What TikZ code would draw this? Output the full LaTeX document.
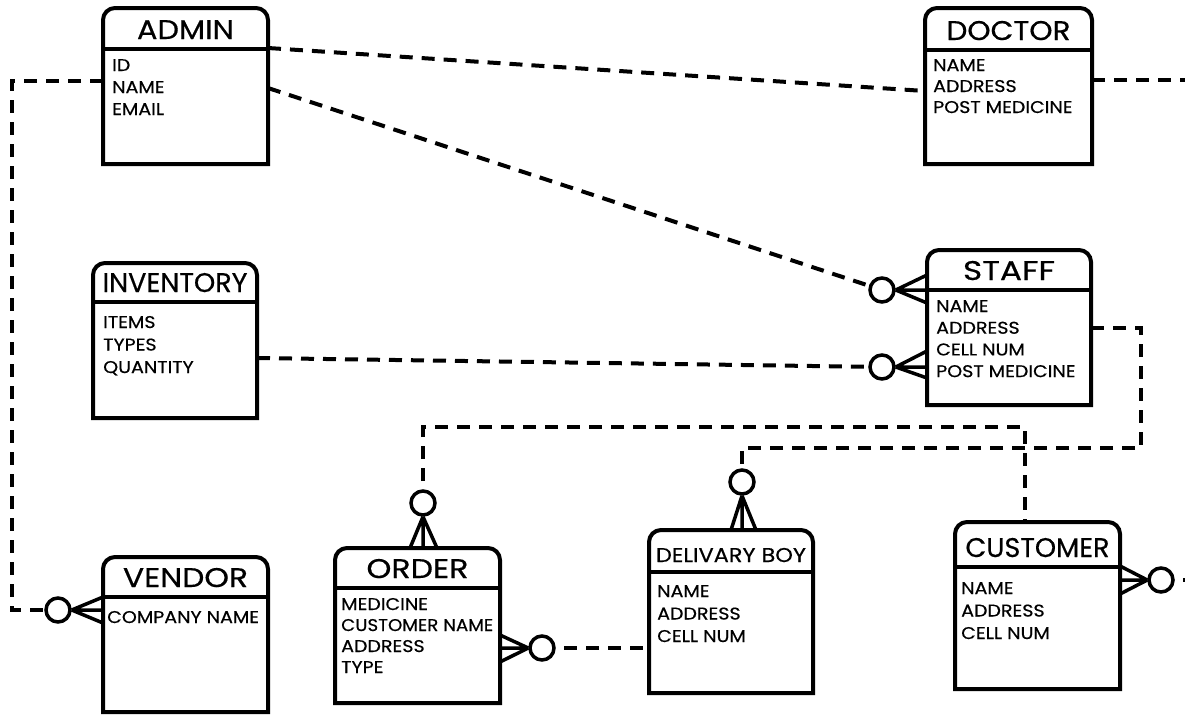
\documentclass[tikz,border=0pt]{standalone}
\usepackage{graphicx}
\usepackage{fontspec}
\setmainfont{Poppins}[FakeStretch=1.12, FakeBold=0.5]
\usetikzlibrary{fit}
\tikzset{
 boxline/.style={line width=4pt, line join=miter},
 conn/.style={line width=4pt, dash pattern=on 13pt off 9pt},
 crow/.style={line width=3.5pt},
 zcircle/.style={circle, draw, line width=3.5pt, minimum size=24pt, inner sep=0pt, fill=white},
 etitle/.style={anchor=base, inner sep=0pt, font=\fontsize{27}{30}\selectfont},
 eattr/.style={anchor=base west, inner sep=0pt, font=\fontsize{17}{20}\selectfont},
}
\newcommand\entity[8]{%
 \node[inner sep=0pt, outer sep=0pt, fit={(#2,#3) (#4,#6)}] (#1) {};
 \draw[boxline] (#1.south west) -- ([yshift=-12pt]#1.north west) arc[start angle=180,end angle=90,radius=12pt] -- ([xshift=-12pt]#1.north east) arc[start angle=90,end angle=0,radius=12pt] -- (#1.south east) -- cycle;
 \draw[boxline] (#2,#5) -- (#4,#5);
 \node[etitle] (#1-title) at ({(#2+#4)/2},{#5-10}) {\resizebox{#8pt}{\height}{#7}};
}
\newcommand\attrs[5]{%
 \foreach \t [count=\i] in {#5} {\node[eattr] (#1-a\i) at (#2,{#3+#4*(\i-1)}) {\t};}
}
\begin{document}
\begin{tikzpicture}[x=1pt,y=-1pt]
\fill[white] (0,0) rectangle (1185,715);
\useasboundingbox (0,0) rectangle (1185,715);

\entity{admin}{103}{8}{268}{49}{164}{ADMIN}{97}
\attrs{admin}{112}{71}{22}{ID,NAME,EMAIL}
\entity{doctor}{925}{8}{1092}{50}{164}{DOCTOR}{124}
\attrs{doctor}{933}{71}{21}{NAME,ADDRESS,POST MEDICINE}
\entity{staff}{927}{250}{1091}{290}{405}{STAFF}{92}
\attrs{staff}{936}{312}{21.7}{NAME,ADDRESS,CELL NUM,POST MEDICINE}
\entity{inventory}{93}{263}{257}{302}{418}{INVENTORY}{145}
\attrs{inventory}{103}{328}{22.5}{ITEMS,TYPES,QUANTITY}
\entity{vendor}{103}{557}{268}{597}{712}{VENDOR}{125}
\attrs{vendor}{107}{623}{21}{COMPANY NAME}
\entity{order}{335}{548}{500}{588}{703}{ORDER}{102}
\attrs{order}{341}{610}{21}{MEDICINE,{\resizebox{152pt}{\height}{CUSTOMER NAME}},ADDRESS,TYPE}
\entity{delivary}{649}{530}{813}{572}{693}{\fontsize{20}{22}\selectfont DELIVARY BOY}{150}
\attrs{delivary}{657}{597}{22.5}{NAME,ADDRESS,CELL NUM}
\entity{customer}{955}{522}{1120}{567}{689}{CUSTOMER}{144}
\attrs{customer}{961}{594}{22.5}{NAME,ADDRESS,CELL NUM}

\coordinate (edge1) at (1185,80);
\coordinate (edge2) at (1185,580);
\path (882,290) coordinate (ps1) (882,367) coordinate (ps2) (58,610) coordinate (pv)
 (423,503) coordinate (po1) (542,648) coordinate (po2) (742,482) coordinate (pd) (1161,580) coordinate (pc);

% connectors
\draw[conn] (admin.east |- 0,48) -- (doctor.west |- 0,91);
\draw[conn] (admin.east |- 0,88) -- (ps1);
\draw[conn] (admin.west |- 0,81) -- (12,81) -- (12,610) -- (pv);
\draw[conn] (doctor.east |- 0,80) -- (edge1);
\draw[conn] (inventory.east |- 0,358) -- (ps2);
\draw[conn] (staff.east |- 0,328) -- (1141,328) -- (1141,448) -| (pd);
\draw[conn] (po1) |- (1025,427) -- (customer.north -| 1025,0);
\draw[conn] (po2) -- (delivary.west |- 0,648);
\draw[conn] (pc) -- (edge2);

% crow's feet with zero circles
\node[zcircle] (cs1) at (ps1) {};
\node[zcircle] (cs2) at (ps2) {};
\node[zcircle] (cv) at (pv) {};
\node[zcircle] (co1) at (po1) {};
\node[zcircle] (co2) at (po2) {};
\node[zcircle] (cd) at (pd) {};
\node[zcircle] (cc) at (pc) {};

\draw[crow] (cs1.east) -- (staff.west |- 0,275) (cs1.east) -- (staff.west |- 0,290) (cs1.east) -- (staff.west |- 0,303);
\draw[crow] (cs2.east) -- (staff.west |- 0,351) (cs2.east) -- (staff.west |- 0,367) (cs2.east) -- (staff.west |- 0,378);
\draw[crow] (cv.east) -- (vendor.west |- 0,597) (cv.east) -- (vendor.west |- 0,610) (cv.east) -- (vendor.west |- 0,623);
\draw[crow] (co1.south) -- (order.north -| 410,0) (co1.south) -- (order.north -| 423,0) (co1.south) -- (order.north -| 437,0);
\draw[crow] (co2.west) -- (order.east |- 0,635) (co2.west) -- (order.east |- 0,648) (co2.west) -- (order.east |- 0,662);
\draw[crow] (cd.south) -- (delivary.north -| 731,0) (cd.south) -- (delivary.north -| 742,0) (cd.south) -- (delivary.north -| 756,0);
\draw[crow] (cc.west) -- (customer.east |- 0,566) (cc.west) -- (customer.east |- 0,580) (cc.west) -- (customer.east |- 0,594);
\end{tikzpicture}
\end{document}
